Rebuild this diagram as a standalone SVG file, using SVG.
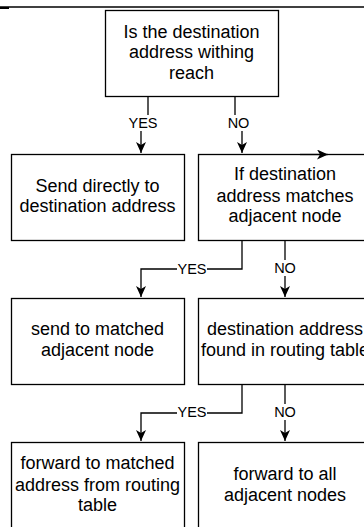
<svg xmlns="http://www.w3.org/2000/svg" width="364" height="527" viewBox="0 0 364 527">
<style>
.box{fill:#fff;stroke:#000;stroke-width:1.3}
.t{font-family:"Liberation Sans",Arial,sans-serif;font-size:18px;fill:#000;text-anchor:middle}
.l{font-family:"Liberation Sans",Arial,sans-serif;font-size:14.5px;fill:#000;text-anchor:middle}
.e{fill:none;stroke:#000;stroke-width:1.3}
.bg{fill:#fff}
</style>
<defs>
<marker id="ah" viewBox="0 0 11 10" refX="11" refY="5" markerWidth="11" markerHeight="10" markerUnits="userSpaceOnUse" orient="auto">
<path d="M0,0 L11,5 L0,10 L3,5 Z" fill="#000"/>
</marker>
</defs>
<line x1="0" y1="7" x2="364" y2="7" stroke="#000" stroke-width="1.3"/>
<line x1="0" y1="8" x2="9" y2="8" stroke="#000" stroke-width="2"/>
<g id="n1">
<rect class="box" x="105.5" y="10.5" width="173" height="86"/>
<text class="t" x="191.5" y="37.5">Is the destination</text>
<text class="t" x="191.5" y="58">address withing</text>
<text class="t" x="191.5" y="78.5">reach</text>
</g>
<g id="n2">
<rect class="box" x="11.5" y="154.5" width="173" height="86"/>
<text class="t" x="97.5" y="191.5">Send directly to</text>
<text class="t" x="97.5" y="212">destination address</text>
</g>
<g id="n3">
<rect class="box" x="198.5" y="154.5" width="173" height="86"/>
<text class="t" x="285" y="180">If destination</text>
<text class="t" x="285" y="201.5">address matches</text>
<text class="t" x="285" y="222">adjacent node</text>
</g>
<g id="n4">
<rect class="box" x="11.5" y="298.5" width="173" height="86"/>
<text class="t" x="97.5" y="335">send to matched</text>
<text class="t" x="97.5" y="356">adjacent node</text>
</g>
<g id="n5">
<rect class="box" x="198.5" y="298.5" width="173" height="86"/>
<text class="t" x="285" y="335">destination address</text>
<text class="t" x="285" y="356">found in routing table</text>
</g>
<g id="n6">
<rect class="box" x="11.5" y="442.5" width="173" height="86"/>
<text class="t" x="97.5" y="469">forward to matched</text>
<text class="t" x="97.5" y="490.5">address from routing</text>
<text class="t" x="97.5" y="511">table</text>
</g>
<g id="n7">
<rect class="box" x="198.5" y="442.5" width="173" height="86"/>
<text class="t" x="285" y="480">forward to all</text>
<text class="t" x="285" y="501">adjacent nodes</text>
</g>
<g id="connectors">
<path class="e" d="M148,97 V123 H141 V153" marker-end="url(#ah)"/>
<path class="e" d="M235,97 V123 H242 V153" marker-end="url(#ah)"/>
<path class="e" d="M242,241 V269 H141 V297" marker-end="url(#ah)"/>
<path class="e" d="M285,241 V297" marker-end="url(#ah)"/>
<path class="e" d="M242,385 V413 H141 V441" marker-end="url(#ah)"/>
<path class="e" d="M285,385 V441" marker-end="url(#ah)"/>
<path class="e" d="M300,154.5 H328" marker-end="url(#ah)"/>
<rect class="bg" x="129" y="115" width="28" height="16"/>
<text class="l" x="143" y="128">YES</text>
<rect class="bg" x="228" y="115" width="22" height="16"/>
<text class="l" x="238.5" y="128">NO</text>
<rect class="bg" x="177" y="262" width="30" height="14"/>
<text class="l" x="192" y="274">YES</text>
<rect class="bg" x="274" y="260" width="22" height="16"/>
<text class="l" x="285" y="273">NO</text>
<rect class="bg" x="177" y="405" width="30" height="14"/>
<text class="l" x="192" y="417">YES</text>
<rect class="bg" x="274" y="404" width="22" height="16"/>
<text class="l" x="285" y="417">NO</text>
</g>
</svg>
